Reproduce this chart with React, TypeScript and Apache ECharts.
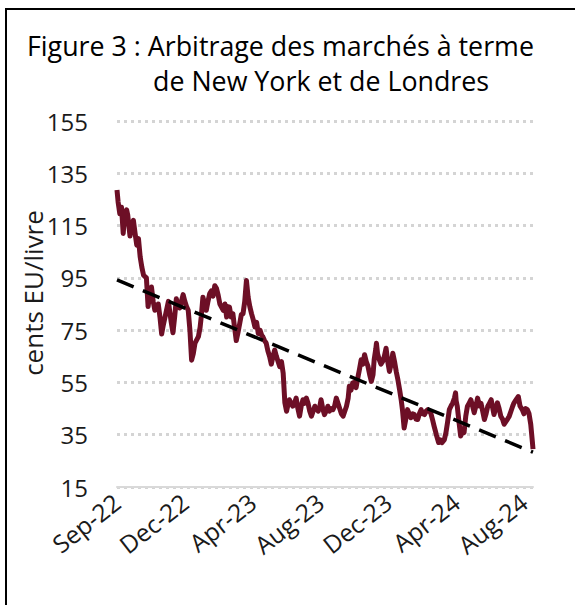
import React, { useEffect, useRef } from "react";
import * as echarts from "echarts";

const titleLine1 = "Figure 3 : Arbitrage des marchés à terme";
const titleLine2 = "de New York et de Londres";
const yAxisName = "cents EU/livre";
const tickLabels = ["Sep-22", "Dec-22", "Apr-23", "Aug-23", "Dec-23", "Apr-24", "Aug-24"];
const tickStepDays = 120;
const lastDay = 736;

// day offsets from 1 Sep 2022
const days = [
  0, 2, 5, 8, 11, 14, 17, 19, 23, 26, 29, 32, 35, 38, 41, 44, 47, 52, 55, 58,
  61, 64, 67, 73, 76, 79, 82, 85, 91, 94, 96, 99, 102, 105, 108, 111, 117, 120, 123, 126,
  129, 132, 135, 138, 144, 147, 149, 152, 155, 158, 161, 164, 167, 170, 173, 176, 179, 182, 188, 191,
  194, 196, 199, 202, 205, 208, 211, 214, 217, 220, 223, 226, 229, 232, 235, 238, 241, 244, 247, 250,
  253, 256, 258, 261, 264, 267, 270, 273, 276, 279, 282, 285, 288, 291, 294, 297, 300, 302, 305, 308,
  311, 314, 317, 320, 323, 326, 329, 332, 335, 338, 341, 344, 347, 350, 353, 356, 359, 361, 364, 367,
  370, 373, 376, 379, 382, 385, 388, 391, 394, 397, 400, 403, 406, 409, 411, 414, 417, 420, 423, 426,
  429, 432, 435, 438, 441, 444, 447, 450, 453, 455, 458, 459, 461, 464, 467, 470, 473, 476, 479, 482,
  485, 488, 491, 494, 497, 500, 503, 505, 508, 511, 514, 517, 520, 523, 526, 529, 532, 535, 538, 541,
  544, 547, 550, 552, 555, 558, 561, 565, 569, 572, 575, 579, 582, 585, 588, 591, 594, 597, 599, 600,
  602, 605, 608, 611, 614, 617, 620, 623, 626, 629, 632, 635, 638, 641, 644, 647, 650, 653, 656, 659,
  662, 664, 667, 670, 673, 676, 679, 682, 685, 688, 691, 694, 697, 700, 702, 705, 708, 710, 713, 717,
  720, 723, 726, 729, 732, 735, 736,
];

// cents US per pound
const prices = [
  128.6, 124, 119.5, 122, 112, 120, 121, 119, 111, 115, 117, 112, 107.5, 110, 103, 99, 96, 95, 84, 89,
  91.5, 86, 82.6, 85, 80, 73.5, 77, 80, 86, 81, 78, 74, 80, 87, 84, 83.5, 88.6, 86, 84, 82.6,
  75, 63.5, 66, 70, 72.5, 76, 80, 87.6, 85, 82.6, 86, 89, 90, 88, 92, 91, 88.4, 85, 82.6, 85,
  80, 84, 83.8, 80, 81.3, 76, 71, 74, 77.4, 81, 81.3, 86, 94, 87.6, 84, 81.3, 79, 76.2, 78, 73.7,
  75, 73, 72.5, 71, 70, 67, 64.9, 62, 65, 67.4, 65, 63, 61, 63, 58.6, 47.2, 44, 46, 48.4, 47,
  45.9, 47, 49, 45, 42.1, 46, 48.4, 47, 49, 47, 44, 42.1, 44, 45.9, 45, 44, 46, 48.4, 45, 42.7,
  44, 45.9, 44, 45, 44.6, 46, 49, 47, 45, 43, 42.1, 44, 45.9, 49, 53.5, 52, 54.8, 55, 53, 56.7,
  60, 63.7, 62, 65.6, 63, 61.2, 58, 55.4, 58, 63.7, 68, 70, 66, 63.7, 62, 63, 65, 68.1, 63, 59.2,
  62, 66.2, 63, 59.2, 56, 52.2, 48, 44.6, 37.6, 41, 44.6, 43, 41.5, 43, 42.7, 41, 40.8, 43, 44.6, 43,
  42.7, 44, 44.6, 44, 43.4, 41, 38.3, 35, 32, 33, 32, 33, 35.8, 40, 44.6, 46, 47.2, 49, 51, 48,
  45.9, 40, 34.5, 36, 35.8, 42, 45.9, 47, 48.4, 46, 43.4, 46, 49, 46, 47, 44, 40.8, 43, 45.9, 47,
  48.4, 46, 42.7, 45, 47.2, 45, 42.1, 41, 39, 40, 41, 42.1, 44, 45.9, 47, 48, 49, 49.6, 46, 44.6,
  43, 45, 44.6, 43, 39, 32, 29.5,
];

const trendDays = [0, 736];
const trendValues = [94.2, 28.3];

const FONT = "Open Sans";

export default function App() {
  const ref = useRef<HTMLDivElement>(null);

  useEffect(() => {
    if (!ref.current) return;
    const chart = echarts.init(ref.current, null, { renderer: "svg" });
    const priceData = days.map((d, i) => [d, prices[i]]);
    const trendData = trendDays.map((d, i) => [d, trendValues[i]]);
    chart.setOption({
      animation: false,
      backgroundColor: "#ffffff",
      textStyle: { fontFamily: FONT },
      graphic: [
        {
          type: "rect",
          shape: { x: 6, y: 9, width: 700, height: 700 },
          style: { fill: "none", stroke: "#000000", lineWidth: 2 },
          silent: true,
        },
        {
          type: "text",
          x: 27,
          y: 45,
          style: {
            text: titleLine1,
            fontFamily: FONT,
            fontSize: 26.8,
            fill: "#000000",
            verticalAlign: "middle",
          },
        },
        {
          type: "text",
          x: 153,
          y: 80,
          style: {
            text: titleLine2,
            fontFamily: FONT,
            fontSize: 26.8,
            fill: "#000000",
            verticalAlign: "middle",
          },
        },
        {
          type: "text",
          x: 33,
          y: 293,
          rotation: Math.PI / 2,
          style: {
            text: yAxisName,
            fontFamily: FONT,
            fontSize: 26,
            fill: "#1a1a1a",
            align: "center",
            verticalAlign: "middle",
          },
        },
      ],
      grid: { left: 117, right: 42, top: 121, bottom: 118 },
      xAxis: {
        type: "value",
        min: 0,
        max: lastDay,
        interval: tickStepDays,
        axisLine: { show: true, lineStyle: { color: "#d9d9d9", width: 2 } },
        axisTick: { show: false },
        splitLine: { show: false },
        axisLabel: {
          rotate: 38,
          margin: 12,
          fontFamily: FONT,
          fontSize: 24.5,
          color: "#1a1a1a",
          showMaxLabel: false,
          formatter: (v: number) => {
            const k = v / tickStepDays;
            return Number.isInteger(k) && k < tickLabels.length ? tickLabels[k] : "";
          },
        },
      },
      yAxis: {
        type: "value",
        min: 15,
        max: 155,
        interval: 20,
        axisLine: { show: false },
        axisTick: { show: false },
        axisLabel: {
          margin: 29,
          fontFamily: FONT,
          fontSize: 24,
          color: "#1a1a1a",
        },
        splitLine: {
          show: true,
          lineStyle: { color: "#d4d4d4", width: 3, type: [3, 4] },
        },
      },
      series: [
        {
          type: "line",
          data: priceData,
          showSymbol: false,
          symbol: "none",
          lineStyle: { color: "#6d0f26", width: 5, join: "round" },
          z: 2,
        },
        {
          type: "line",
          data: trendData,
          showSymbol: false,
          symbol: "none",
          lineStyle: { color: "#000000", width: 3.5, type: [18, 10] },
          z: 3,
        },
      ],
    });
    return () => chart.dispose();
  }, []);

  return (
    <div
      ref={ref}
      style={{ position: "absolute", left: 0, top: 0, width: 575, height: 605, background: "#fff" }}
    />
  );
}
